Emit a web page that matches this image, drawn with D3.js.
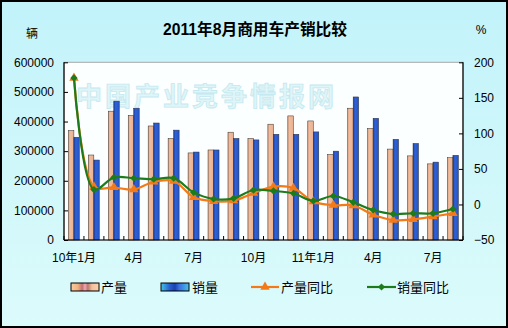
<!DOCTYPE html>
<html><head><meta charset="utf-8">
<script src="https://cdn.jsdelivr.net/npm/d3@7"></script>
<style>body{margin:0;background:#fff}svg{display:block}text{font-family:"Liberation Sans","Noto Sans CJK SC",sans-serif}</style>
</head><body>
<script>
const categories = ["10年1月","10年2月","10年3月","10年4月","10年5月","10年6月","10年7月","10年8月","10年9月","10年10月","10年11月","10年12月","11年1月","11年2月","11年3月","11年4月","11年5月","11年6月","11年7月","11年8月"];
const tickLabels = ["10年1月","","","4月","","","7月","","","10月","","","11年1月","","","4月","","","7月",""];
const production = [370000,287000,435000,421000,385000,343000,294000,304000,364000,343000,391000,419000,402000,289000,445000,377000,307000,284000,257000,278000];
const sales = [347000,270000,469000,445000,395000,371000,297000,304000,343000,338000,357000,357000,365000,300000,483000,411000,340000,326000,263000,286000];
const productionYoY = [178,25,24,21,32,33,10,4.5,5.5,16,25,23,4,-1,-1.5,-14.5,-22,-21,-17,-12.5];
const salesYoY = [178,21,38,37,35.5,37,17,7.7,8.6,20.3,19,15.7,4.9,11.9,3,-7.8,-13.4,-12.4,-12.4,-6.4];
const leftTicks = [0,100000,200000,300000,400000,500000,600000];
const rightTicks = [-50,0,50,100,150,200];

const W = 508, H = 328;
const svg = d3.select("body").append("svg").attr("width", W).attr("height", H);
const defs = svg.append("defs");

const bg = defs.append("linearGradient").attr("id","bg").attr("x1",0).attr("y1",0).attr("x2",0).attr("y2",1);
bg.append("stop").attr("offset","0%").attr("stop-color","#c2f3fa");
bg.append("stop").attr("offset","100%").attr("stop-color","#dcfbfb");

function hgrad(id, stops){
  const g = defs.append("linearGradient").attr("id",id).attr("x1",0).attr("y1",0).attr("x2",1).attr("y2",0);
  stops.forEach(([o,c])=>g.append("stop").attr("offset",o).attr("stop-color",c));
}
hgrad("gProd", [["0%","#d9a080"],["30%","#efbd9e"],["100%","#e9b191"]]);
hgrad("gSales", [["0%","#1a3c9c"],["35%","#2f62d8"],["100%","#2452c4"]]);
hgrad("lgProd", [["0%","#f8cfa0"],["25%","#f0b080"],["40%","#c07070"],["50%","#f0a8b8"],["60%","#b87868"],["75%","#f4c0a0"],["100%","#f8d4a8"]]);
hgrad("lgSales", [["0%","#40c8e8"],["30%","#2a60d0"],["50%","#1a40b0"],["65%","#3a70e0"],["100%","#48c0e8"]]);

svg.append("rect").attr("x",1).attr("y",1).attr("width",W-2).attr("height",H-2)
  .attr("fill","url(#bg)").attr("stroke","#000").attr("stroke-width",2);

const pLeft = 64, pRight = 463, pTop = 62.3, pBottom = 240;

const x = d3.scaleBand().domain(categories).range([pLeft, pRight]).padding(0);
const x1 = d3.scaleBand().domain(["产量","销量"]).range([-5.6, 5.4]).padding(0);
const y = d3.scaleLinear().domain([0, 600000]).range([pBottom, pTop]);
const y2 = d3.scaleLinear().domain([-50, 200]).range([pBottom, pTop]);
const cx = d => x(d) + x.bandwidth()/2;

// plot area
svg.append("rect").attr("x",pLeft).attr("y",pTop).attr("width",pRight-pLeft).attr("height",pBottom-pTop)
  .attr("fill","#fcffff").attr("stroke","#a8a8a8").attr("stroke-width",1);

// watermark
svg.append("text").attr("x",76).attr("y",106).attr("textLength",258).attr("lengthAdjust","spacing")
  .style("font-family","'Noto Sans CJK SC'").style("font-weight","bold").style("font-size","26px")
  .attr("fill","#e0f5f8").attr("stroke","#c4e9f0").attr("stroke-width",0.8)
  .text("中国产业竞争情报网");

// bars
const series = [["产量", production, "url(#gProd)"],["销量", sales, "url(#gSales)"]];
series.forEach(([name, vals, fill])=>{
  svg.append("g").selectAll("rect").data(categories).join("rect")
    .attr("x", d => cx(d) + x1(name))
    .attr("y", (d,i) => y(vals[i]))
    .attr("width", x1.bandwidth())
    .attr("height", (d,i) => pBottom - y(vals[i]))
    .attr("fill", fill).attr("stroke","#303030").attr("stroke-width",0.5);
});

// axes
const gl = svg.append("g").attr("transform",`translate(${pLeft},0)`)
  .call(d3.axisLeft(y).tickValues(leftTicks).tickSize(-4).tickPadding(10).tickFormat(d3.format("d")));
const gr = svg.append("g").attr("transform",`translate(${pRight},0)`)
  .call(d3.axisRight(y2).tickValues(rightTicks).tickSize(-4).tickPadding(11));
const gb = svg.append("g").attr("transform",`translate(0,${pBottom})`)
  .call(d3.axisBottom(x).tickSize(0).tickPadding(13).tickFormat((d,i)=>tickLabels[i]));
[gl,gr,gb].forEach(g=>{
  g.select(".domain").attr("stroke","#000").attr("stroke-width",1.2);
  g.selectAll(".tick line").attr("stroke","#000");
  g.selectAll("text").style("font-size","12px").attr("fill","#000")
    .style("font-family","'Liberation Sans','Noto Sans CJK SC',sans-serif");
});
gb.select(".domain").attr("d",`M${pLeft},0H${pRight}`);
gl.select(".domain").attr("d",`M0,${pBottom}V${pTop}`);
gr.select(".domain").attr("d",`M0,${pBottom}V${pTop}`);
// category boundary ticks
svg.append("g").selectAll("line").data(d3.range(categories.length+1)).join("line")
  .attr("x1", i => pLeft + i*x.step()).attr("x2", i => pLeft + i*x.step())
  .attr("y1", pBottom).attr("y2", pBottom-4).attr("stroke","#000");

// lines
const orange = "#f47a18", green = "#1c7c1c";
const line = vals => d3.line().curve(d3.curveCatmullRom.alpha(0.5))
  .x((d,i)=>cx(categories[i])).y(d=>y2(d))(vals);
svg.append("path").attr("d", line(productionYoY)).attr("fill","none").attr("stroke",orange).attr("stroke-width",2.2);
svg.append("g").selectAll("path").data(productionYoY).join("path")
  .attr("transform",(d,i)=>`translate(${cx(categories[i])},${y2(d)})`)
  .attr("d", d3.symbol(d3.symbolTriangle, 38)).attr("fill",orange);
svg.append("path").attr("d", line(salesYoY)).attr("fill","none").attr("stroke",green).attr("stroke-width",2.2);
svg.append("g").selectAll("path").data(salesYoY).join("path")
  .attr("transform",(d,i)=>`translate(${cx(categories[i])},${y2(d)}) rotate(45)`)
  .attr("d", d3.symbol(d3.symbolSquare, 26)).attr("fill",green);

// titles
svg.append("text").attr("x",255).attr("y",34.5).attr("text-anchor","middle")
  .attr("textLength",184).attr("lengthAdjust","spacingAndGlyphs")
  .style("font-size","16px").style("font-weight","bold").text("2011年8月商用车产销比较");
svg.append("text").attr("x",32).attr("y",38).attr("text-anchor","middle").style("font-size","12px").text("辆");
svg.append("text").attr("x",481).attr("y",34).attr("text-anchor","middle").style("font-size","12px").text("%");

// legend
const ly = 287;
const lg = svg.append("g").style("font-size","13px");
lg.append("rect").attr("x",71).attr("y",ly-4).attr("width",28).attr("height",8).attr("fill","url(#lgProd)").attr("stroke","#000");
lg.append("text").attr("x",101).attr("y",ly+5).text("产量");
lg.append("rect").attr("x",161).attr("y",ly-4).attr("width",28).attr("height",8).attr("fill","url(#lgSales)").attr("stroke","#000");
lg.append("text").attr("x",192).attr("y",ly+5).text("销量");
lg.append("line").attr("x1",251).attr("x2",279).attr("y1",ly).attr("y2",ly).attr("stroke",orange).attr("stroke-width",2.2);
lg.append("path").attr("transform",`translate(265,${ly})`).attr("d", d3.symbol(d3.symbolTriangle, 38)).attr("fill",orange);
lg.append("text").attr("x",281).attr("y",ly+5).text("产量同比");
lg.append("line").attr("x1",367).attr("x2",396).attr("y1",ly).attr("y2",ly).attr("stroke",green).attr("stroke-width",2.2);
lg.append("path").attr("transform",`translate(381.5,${ly}) rotate(45)`).attr("d", d3.symbol(d3.symbolSquare, 26)).attr("fill",green);
lg.append("text").attr("x",397).attr("y",ly+5).text("销量同比");
</script>
</body></html>
